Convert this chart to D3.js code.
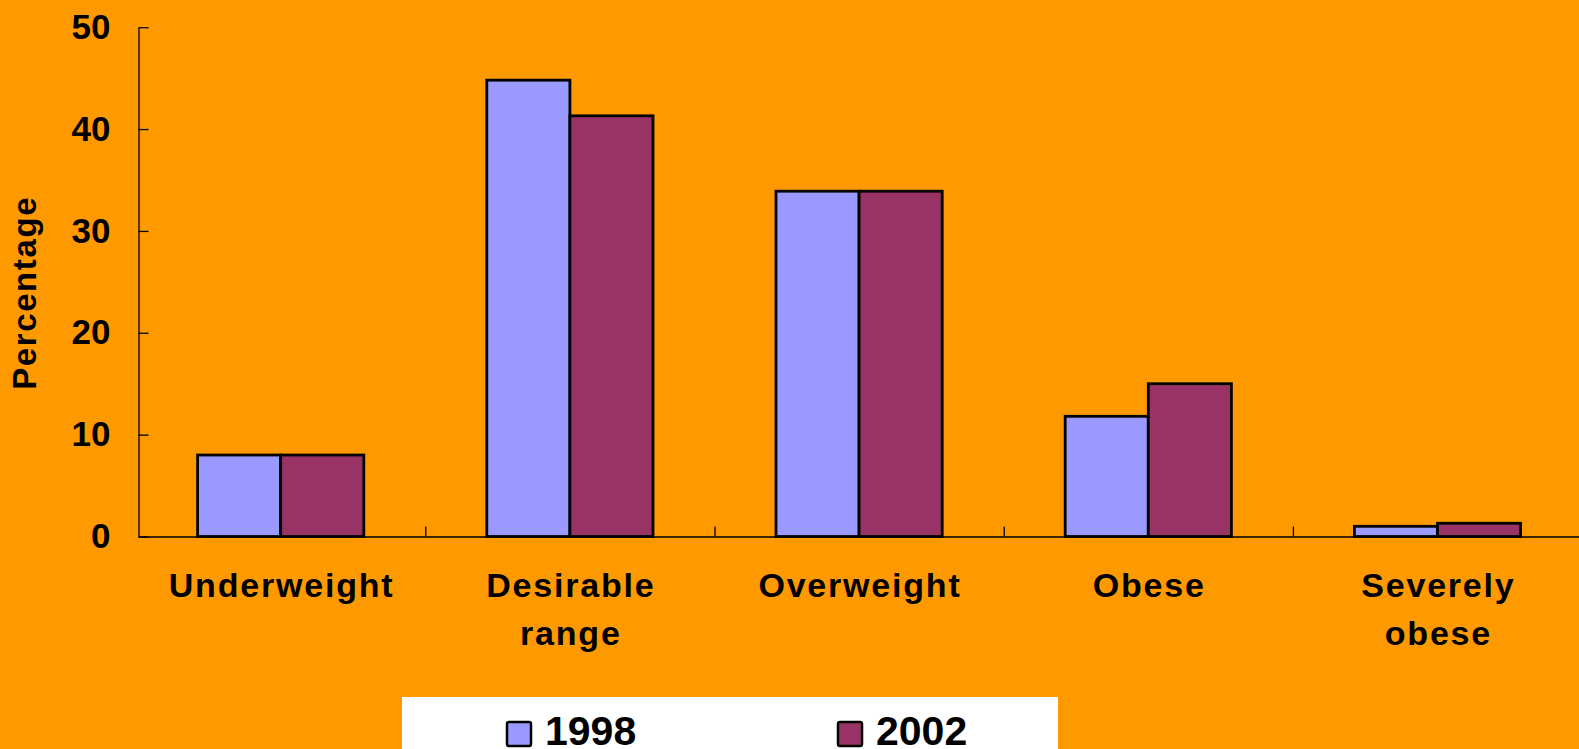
<!DOCTYPE html>
<html>
<head>
<meta charset="utf-8">
<script src="https://cdn.jsdelivr.net/npm/d3@7"></script>
<style>
  html, body { margin: 0; padding: 0; background: #FF9900; overflow: hidden; }
  svg { display: block; }
  text { font-family: "Liberation Sans", Arial, sans-serif; font-weight: bold; fill: #000; }
</style>
</head>
<body>
<svg id="chart" width="1579" height="749"></svg>
<script>
// ---- data ----
const categories = [["Underweight"], ["Desirable", "range"], ["Overweight"], ["Obese"], ["Severely", "obese"]];
const seriesNames = ["1998", "2002"];
const values1998 = [8.0, 44.8, 33.9, 11.8, 1.0];
const values2002 = [8.0, 41.3, 33.9, 15.0, 1.3];
const yTicks = [0, 10, 20, 30, 40, 50];
const yLabel = "Percentage";
const colors = ["#9999FF", "#993366"];

const seriesValues = [values1998, values2002];

// ---- layout ----
const W = 1579, H = 749;
const plot = { axisX: 138.5, left: 136.1, right: 1582.1, top: 27.2, bottom: 536.5 };

const svg = d3.select("#chart");
svg.append("rect").attr("width", W).attr("height", H).attr("fill", "#FF9900");

const catIdx = categories.map((c, i) => i);
const x0 = d3.scaleBand().domain(catIdx).range([plot.left, plot.right]).paddingInner(0).paddingOuter(0);
const x1 = d3.scaleBand().domain(seriesNames).range([0, x0.bandwidth()]).paddingInner(0).paddingOuter(0.74);
const y = d3.scaleLinear().domain([0, 50]).range([plot.bottom, plot.top]);

// x axis (boundary ticks pointing up)
const xb = d3.scaleLinear().domain([0, categories.length]).range([plot.left, plot.right]);
const xAxis = d3.axisBottom(xb).tickValues(d3.range(1, categories.length)).tickSizeInner(-10).tickSizeOuter(0).tickFormat("");
const gx = svg.append("g").attr("transform", `translate(0,${plot.bottom})`).call(xAxis);
gx.select("path.domain").attr("d", `M${plot.axisX},0.5H${W + 5}`);
gx.selectAll("path, line").attr("stroke", "#000").attr("stroke-width", 1.3);

// bars
const groups = svg.append("g").selectAll("g")
  .data(catIdx).join("g")
  .attr("transform", i => `translate(${x0(i)},0)`);

groups.selectAll("rect")
  .data(i => seriesNames.map((s, k) => ({ s, k, v: seriesValues[k][i] })))
  .join("rect")
  .attr("x", d => x1(d.s))
  .attr("y", d => y(d.v))
  .attr("width", x1.bandwidth())
  .attr("height", d => y(0) - y(d.v))
  .attr("fill", d => colors[d.k])
  .attr("stroke", "#000")
  .attr("stroke-width", 2.8);

// y axis
const yAxis = d3.axisLeft(y).tickValues(yTicks).tickSizeInner(-10).tickSizeOuter(0).tickPadding(28);
const gy = svg.append("g").attr("transform", `translate(${plot.axisX},0)`).call(yAxis);
gy.selectAll("path, line").attr("stroke", "#000").attr("stroke-width", 1.3);
gy.selectAll("text").style("font-size", "35px").style("font-family", '"Liberation Sans", Arial, sans-serif').style("font-weight", "bold").attr("fill", "#000").attr("dy", "0.32em");

// category labels
const ls = 1.8;
const catLabels = svg.append("g").selectAll("text")
  .data(categories).join("text")
  .attr("text-anchor", "middle")
  .style("font-size", "34px")
  .style("letter-spacing", ls + "px");
catLabels.each(function(lines, i) {
  const t = d3.select(this);
  lines.forEach((ln, j) => {
    t.append("tspan")
      .attr("x", x0(i) + x0.bandwidth() / 2 + ls / 2)
      .attr("y", 597 + j * 48)
      .text(ln);
  });
});

// y label
svg.append("text")
  .attr("transform", `translate(36,${(plot.top + plot.bottom) / 2 + 11}) rotate(-90)`)
  .attr("text-anchor", "middle")
  .style("font-size", "33px")
  .style("letter-spacing", "1.6px")
  .text(yLabel);

// legend
const legend = svg.append("g");
legend.append("rect").attr("x", 402).attr("y", 697).attr("width", 656).attr("height", 60).attr("fill", "#fff");
const legendX = [507, 838];
seriesNames.forEach((s, k) => {
  legend.append("rect")
    .attr("x", legendX[k]).attr("y", 722).attr("width", 24).attr("height", 24)
    .attr("rx", 2)
    .attr("fill", colors[k]).attr("stroke", "#000").attr("stroke-width", 2.5);
  legend.append("text")
    .attr("x", legendX[k] + 38).attr("y", 745)
    .style("font-size", "41px")
    .text(s);
});
</script>
</body>
</html>
